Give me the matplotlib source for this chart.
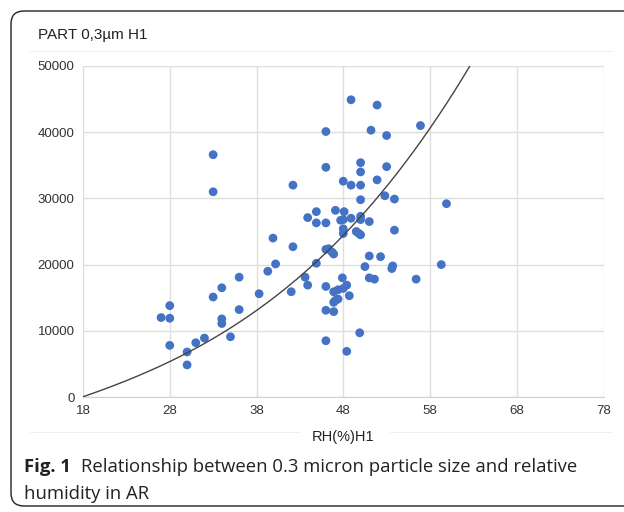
import numpy as np
import matplotlib
matplotlib.use("Agg")
import matplotlib.pyplot as plt
from matplotlib.patches import FancyBboxPatch
from matplotlib.lines import Line2D

# ---------------- data ----------------
rh = [27, 28, 28, 28, 30, 30, 31, 32, 33, 34, 34, 34, 35, 36, 36, 38.3, 39.3, 40.2, 39.9,
      42, 42.2, 42.2, 33, 33, 43.6, 43.9, 43.9, 44.9, 44.9, 44.9, 46, 46, 46, 46, 46, 46, 46,
      46.3, 46.7, 46.9, 47.1, 46.9, 47.4, 48, 48.4, 48.7, 46.9, 47.1, 47.4, 46.9, 49.9, 48.4,
      47.9, 48.9, 51.9, 51.2, 53, 56.9, 50, 50, 53, 48, 48.9, 50, 51.9, 50, 52.8, 53.9, 59.9,
      48.1, 47.7, 48, 48.9, 50, 50, 51, 48, 48, 49.5, 49.8, 50, 53.9, 51, 52.3, 50.5, 53.6,
      53.7, 59.3, 51, 51.6, 56.4]
part = [12000, 13800, 11900, 7800, 6800, 4850, 8200, 8900, 15100, 16500, 11800, 11100, 9100,
        18100, 13200, 15600, 19000, 20100, 24000, 15900, 22700, 32000, 36600, 31000, 18100,
        16900, 27100, 20200, 28000, 26300, 16700, 13100, 8500, 40100, 34700, 26300, 22300,
        22400, 21900, 21600, 28200, 15900, 16200, 16400, 16900, 15300, 14300, 14600, 14800,
        12900, 9700, 6900, 18000, 44900, 44100, 40300, 39500, 41000, 35400, 34000, 34800,
        32600, 32000, 32000, 32800, 29800, 30400, 29900, 29200, 28000, 26700, 26800, 27000,
        27300, 26800, 26500, 25400, 24700, 25000, 24700, 24500, 25200, 21300, 21200, 19700,
        19400, 19800, 20000, 18000, 17800, 17800]

# trend line values
trend_x = [18, 28, 38, 48, 58, 62.6]
trend_y = [0, 5480, 12890, 24500, 40600, 50000]

x_ticks = [18, 28, 38, 48, 58, 68, 78]
y_ticks = [0, 10000, 20000, 30000, 40000, 50000]

title = "PART 0,3µm H1"
xlabel = "RH(%)H1"

W, H = 624, 512
fig = plt.figure(figsize=(W / 100, H / 100), dpi=100)
fig.patch.set_facecolor("white")

# overlay axes in pixel coordinates for frame / decorations
bg = fig.add_axes([0, 0, 1, 1], zorder=0)
bg.set_xlim(0, W)
bg.set_ylim(H, 0)
bg.axis("off")
frame = FancyBboxPatch((11, 11), 660, 495, boxstyle="round,pad=0,rounding_size=13",
                       fc="none", ec="#222222", lw=1.0)
bg.add_patch(frame)
bg.add_line(Line2D([30, 612], [51, 51], color="#f0f0f0", lw=0.8))
bg.add_line(Line2D([30, 300], [432, 432], color="#f0f0f0", lw=0.8))
bg.add_line(Line2D([390, 612], [432, 432], color="#f0f0f0", lw=0.8))

bg.text(38, 35, title, fontsize=11, family="Liberation Sans", va="center", ha="left",
        color="#222222")
bg.text(343, 437, xlabel, fontsize=10.5, family="Liberation Sans", va="center", ha="center",
        color="#222222")
bg.text(24, 467, "Fig. 1", fontsize=13.3, family="Open Sans", fontweight="bold", va="center",
        ha="left", color="#222222")
bg.text(81, 467, "Relationship between 0.3 micron particle size and relative", fontsize=13.3,
        family="Open Sans", va="center", ha="left", color="#222222")
bg.text(24, 494, "humidity in AR", fontsize=13.3, family="Open Sans", va="center", ha="left",
        color="#222222")

# main axes
left, right, top, bottom = 83, 603.5, 66, 397
ax = fig.add_axes([left / W, 1 - bottom / H, (right - left) / W, (bottom - top) / H], zorder=1)
ax.set_facecolor("white")
ax.set_xlim(18, 78)
ax.set_ylim(0, 50000)
ax.set_xticks(x_ticks)
ax.set_yticks(y_ticks)
ax.set_xticklabels([str(v) for v in x_ticks], family="Liberation Sans", fontsize=9.5,
                   color="#333333")
ax.set_yticklabels([str(v) for v in y_ticks], family="Liberation Sans", fontsize=9.5,
                   color="#333333")
ax.tick_params(length=0, pad=6)
ax.grid(True, color="#dedede", lw=1.0)
ax.set_axisbelow(True)
for s in ax.spines.values():
    s.set_visible(False)
ax.spines["bottom"].set_visible(True)
ax.spines["bottom"].set_color("#d0d0d0")

ax.scatter(rh, part, s=40, color="#4472C4", edgecolors="none", zorder=3)

coef = np.polyfit(np.array(trend_x) - 18, trend_y, 3)
xs = np.linspace(18, 64, 300)
ys = np.polyval(coef, xs - 18)
ax.plot(xs, ys, color="#444444", lw=1.0, zorder=4, clip_on=True)

fig.savefig("out.png", dpi=100, facecolor="white")
